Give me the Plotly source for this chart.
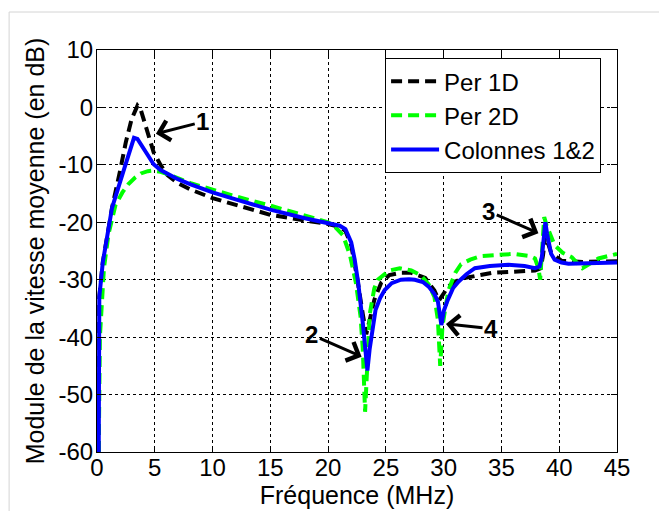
import plotly.graph_objects as go

# ---------------- data ----------------
freq_1d = [0.15, 0.2, 0.5, 1.3, 2.0, 2.5, 3.0, 3.5, 3.8, 4.3, 4.9, 5.5, 6.1, 7.0, 8.1, 10, 12, 15, 18, 20,
           21, 21.5, 22, 22.5, 23.0, 23.3, 23.6, 24.0, 24.6, 25.3, 26.3, 27.2, 28.4, 29.2, 29.6, 30.0, 30.4,
           31.0, 31.8, 34.2, 37.3, 37.9, 38.4, 38.6, 38.8, 39.0, 39.3, 40.2, 42, 45]
per_1d = [-60, -33, -27, -17.5, -11, -6, -2, 0.3, -0.5, -4, -7.8, -10, -11.8, -13.2, -14.3, -15.8, -17, -18.7,
          -19.7, -20.3, -20.8, -21.5, -24, -29.5, -36, -39.5, -37, -33.5, -30.5, -29.2, -28.8, -28.8, -29.7,
          -31.9, -33.6, -32.5, -31.2, -30.3, -29.7, -28.8, -28.5, -28.4, -28, -25.7, -22.3, -23.5, -25.3,
          -26.7, -26.9, -26.8]

freq_2d = [0.15, 0.25, 0.6, 1.0, 1.6, 2.2, 2.7, 3.3, 3.8, 4.4, 4.9, 5.5, 6.1, 7.0, 8.1, 10, 12, 15, 18, 20,
           20.7, 21.3, 21.9, 22.4, 22.8, 23.0, 23.2, 23.4, 23.6, 24.0, 24.3, 25.3, 26.2, 27.2, 28.0, 28.7,
           29.2, 29.5, 29.7, 29.9, 30.4, 31.0, 31.5, 32.3, 33.2, 36.1, 37.5, 37.9, 38.2, 38.35, 38.5, 38.7,
           38.9, 39.6, 40.3, 41.1, 41.6, 42, 42.5, 43.4, 45]
per_2d = [-60, -40, -28, -22, -17, -14.8, -13.4, -12.2, -11.5, -11.1, -11, -11.2, -11.6, -12.4, -13.2, -14.3,
          -15.5, -17.1, -18.8, -20, -21, -22.3, -25.8, -30.5, -36.3, -42, -53, -44, -36, -31.5, -30, -28.4,
          -28.0, -28.4, -29.2, -30.8, -33, -37, -45, -38, -31.9, -28.8, -27.3, -26.5, -25.9, -25.5, -25.9,
          -26.3, -28, -30, -25, -19.1, -20.5, -24, -25.3, -26.1, -27.2, -28, -27.4, -26.3, -25.5]

freq_col = [0.15, 0.2, 0.5, 1.3, 2.35, 2.8, 3.2, 3.5, 4.0, 4.5, 4.9, 5.5, 6.1, 7.0, 8.1, 10, 12, 15, 18, 20,
            21, 21.5, 22.0, 22.3, 22.6, 23.0, 23.2, 23.4, 23.6, 23.8, 24.1, 24.5, 24.9, 25.5, 26.3, 27.0,
            27.5, 28.2, 28.7, 29.2, 29.5, 29.8, 30.0, 30.3, 30.8, 31.3, 32.0, 32.7, 34, 35.6, 37, 37.9, 38.3,
            38.5, 38.65, 38.8, 38.95, 39.1, 39.3, 39.6, 40.2, 40.8, 42, 43.5, 45]
colonnes = [-60, -33, -27, -17.5, -10.7, -7.6, -5.3, -5.5, -7.0, -8.6, -9.9, -10.9, -11.6, -12.5, -13.4,
            -14.8, -16.0, -17.8, -19.3, -20.2, -20.6, -21.2, -23.5, -26.5, -30.5, -37.5, -42, -45.8, -42,
            -39, -35.3, -33.2, -31.8, -30.6, -30.0, -29.9, -30.0, -30.4, -31.2, -32.5, -33.8, -37.9, -35.5,
            -33.8, -31.5, -30.3, -29, -28, -27.6, -27.4, -27.6, -28, -27.7, -26, -22.5, -20, -22, -23.9,
            -25.5, -26.5, -27, -27.2, -27.1, -27.0, -27.0]

series_names = ["Per 1D", "Per 2D", "Colonnes 1&2"]

x_ticks = [0, 5, 10, 15, 20, 25, 30, 35, 40, 45]
y_ticks = [10, 0, -10, -20, -30, -40, -50, -60]

# numbered arrows: label, tip (x, y), text position (x, y)
arrow_labels = ["1", "2", "3", "4"]
arrow_tip_x = [5.1, 22.9, 38.2, 30.2]
arrow_tip_y = [-4.6, -43.4, -21.9, -37.7]
arrow_txt_x = [9.15, 18.6, 33.9, 34.1]
arrow_txt_y = [-2.5, -39.6, -18.1, -38.5]

# ---------------- figure ----------------
FONT = "Liberation Sans, Arial, Helvetica, sans-serif"

fig = go.Figure()
fig.add_trace(go.Scatter(x=freq_1d, y=per_1d, mode="lines", name=series_names[0],
                         line=dict(color="#000000", width=4, dash="11px,6px")))
fig.add_trace(go.Scatter(x=freq_2d, y=per_2d, mode="lines", name=series_names[1],
                         line=dict(color="#00ff00", width=4, dash="11px,6px")))
fig.add_trace(go.Scatter(x=freq_col, y=colonnes, mode="lines", name=series_names[2],
                         line=dict(color="#0000ff", width=4)))

for lab, tx, ty, ax, ay in zip(arrow_labels, arrow_tip_x, arrow_tip_y, arrow_txt_x, arrow_txt_y):
    fig.add_annotation(x=tx, y=ty, ax=ax, ay=ay, xref="x", yref="y", axref="x", ayref="y",
                       text="<b>%s</b>" % lab, showarrow=True, arrowhead=4, arrowsize=1.3,
                       arrowwidth=3, arrowcolor="#000000",
                       font=dict(family=FONT, size=24, color="#000000"))

# light grey outer frame of the original figure
fig.add_shape(type="rect", xref="paper", yref="paper", x0=-0.169, x1=2.0, y0=-1.0, y1=1.0945,
              line=dict(color="#d4d4d4", width=1), fillcolor="rgba(0,0,0,0)", layer="below")

axis_common = dict(showline=True, linecolor="#000000", linewidth=1, mirror="ticks",
                   ticks="inside", ticklen=6, tickcolor="#000000",
                   showgrid=True, gridcolor="#000000", gridwidth=1, griddash="dot",
                   zeroline=False, automargin=False,
                   tickfont=dict(family=FONT, size=24, color="#000000"))

fig.update_xaxes(range=[0, 45], tickvals=x_ticks, ticktext=[str(v) for v in x_ticks],
                 ticklabelstandoff=-6,
                 title=dict(text="Fréquence (MHz)", font=dict(family=FONT, size=25, color="#000000"),
                            standoff=6),
                 **axis_common)
fig.update_yaxes(range=[-60, 10], tickvals=y_ticks, ticktext=[str(v) for v in y_ticks],
                 ticklabelstandoff=-2,
                 title=dict(text="Module de la vitesse moyenne (en dB)",
                            font=dict(family=FONT, size=25, color="#000000"), standoff=6),
                 **axis_common)

fig.update_layout(
    width=667, height=511,
    margin=dict(l=89, r=58, t=42, b=67, pad=0),
    paper_bgcolor="#ffffff", plot_bgcolor="#ffffff",
    font=dict(family=FONT, color="#000000"),
    showlegend=True,
    legend=dict(x=0.554, y=0.980, xanchor="left", yanchor="top",
                bgcolor="#ffffff", bordercolor="#000000", borderwidth=1,
                font=dict(family=FONT, size=24, color="#000000"),
                tracegroupgap=0, itemwidth=48, entrywidth=190),
)

fig.write_html("out.html")
